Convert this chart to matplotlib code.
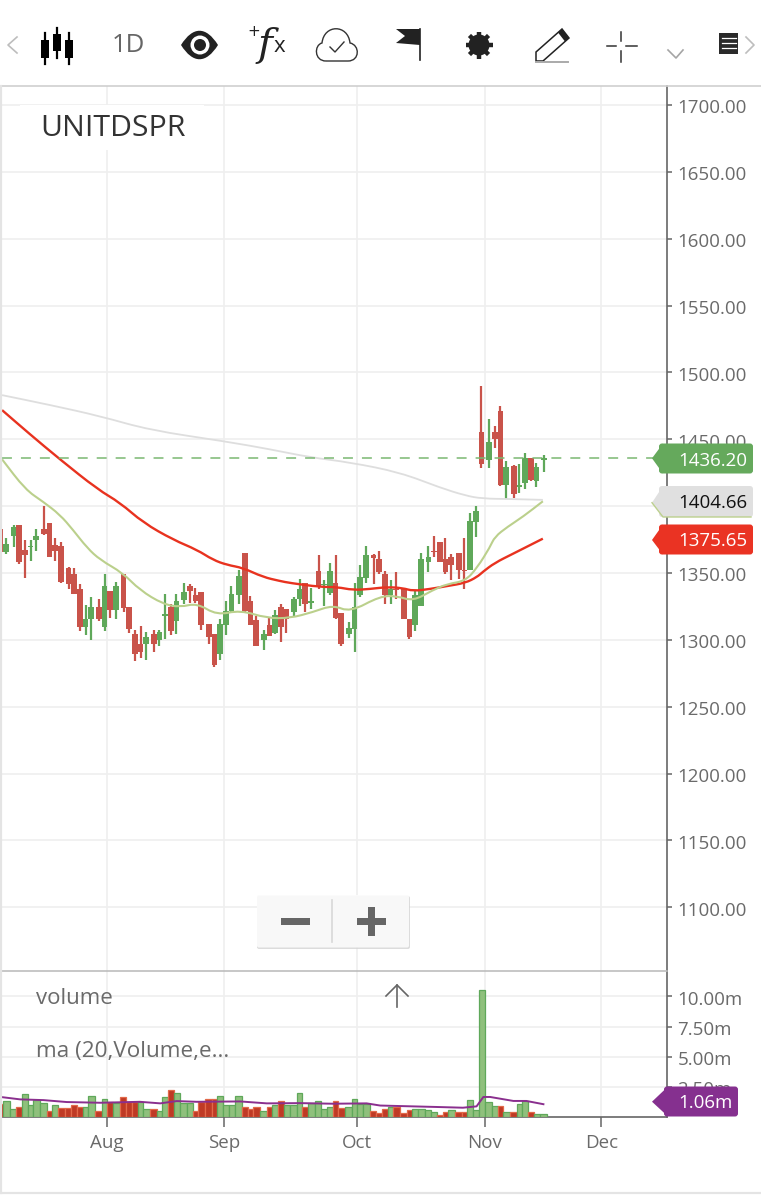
import numpy as np
import matplotlib
matplotlib.use("Agg")
import matplotlib.pyplot as plt
from matplotlib.patches import Polygon, FancyBboxPatch, Rectangle, Circle, PathPatch
from matplotlib.path import Path
from matplotlib.transforms import ScaledTranslation

plt.rcParams["font.family"] = ["Open Sans", "DejaVu Sans"]

# Candles (price)
opens = [1382.9,1365.4,1377.9,1385.9,1367.4,1369.4,1374.9,1382.9,1387.4,1370.9,
         1370.4,1353.4,1349.1,1337.8,1309.5,1315.8,1324.8,1309.5,1336.6,1322.3,
         1349.1,1324.8,1304.7,1297.2,1297.0,1304.7,1299.7,1317.8,1324.8,1314.0,
         1329.5,1340.3,1333.3,1336.0,1312.0,1304.5,1289.5,1311.0,1321.5,1333.6,
         1364.6,1329.0,1314.8,1299.7,1310.8,1305.2,1324.8,1323.3,1320.8,1330.8,
         1342.8,1327.8,1351.6,1341.0,1334.8,1342.8,1320.3,1304.0,1308.2,1333.6,
         1346.6,1363.6,1360.4,1349.1,1333.3,1338.3,1338.3,1315.8,1310.8,1325.3,
         1357.9,1366.1,1373.4,1360.4,1361.6,1364.6,1352.1,1352.1,1388.0,1455.1,
         1434.3,1455.1,1470.9,1415.5,1430.0,1414.5,1417.5,1435.8,1418.8,1434.6]
closes = [1365.4,1371.7,1384.7,1357.9,1363.4,1370.4,1377.4,1379.2,1362.1,1366.6,
          1343.3,1342.1,1334.6,1309.5,1315.8,1324.8,1315.3,1340.3,1322.3,1340.3,
          1324.0,1308.2,1289.7,1291.0,1302.0,1297.0,1306.0,1319.0,1306.5,1328.8,
          1336.0,1336.6,1329.0,1311.0,1302.2,1281.0,1312.0,1321.5,1334.6,1347.8,
          1321.5,1311.0,1295.2,1304.7,1302.7,1318.3,1309.8,1315.8,1330.3,1337.8,
          1326.5,1328.8,1339.6,1342.0,1351.6,1316.5,1296.5,1309.0,1324.8,1347.3,
          1363.4,1360.9,1350.9,1333.3,1337.8,1337.3,1315.3,1302.0,1333.3,1360.4,
          1361.6,1365.4,1358.4,1350.4,1356.1,1352.1,1351.1,1388.7,1396.0,1431.3,
          1448.1,1450.1,1415.5,1429.5,1408.7,1415.5,1436.3,1419.3,1429.5,1436.2]
highs = [1383.4,1375.9,1385.9,1385.9,1374.9,1374.7,1382.9,1400.0,1387.4,1375.9,
         1373.4,1354.1,1353.4,1341.6,1326.0,1332.1,1330.3,1349.1,1336.6,1343.3,
         1349.1,1324.8,1307.2,1310.3,1305.7,1307.2,1307.7,1334.6,1326.5,1334.6,
         1342.8,1342.0,1338.6,1336.0,1312.0,1304.5,1315.3,1329.0,1340.3,1352.1,
         1364.6,1332.8,1317.8,1307.7,1317.3,1322.0,1326.5,1323.3,1332.0,1345.8,
         1342.8,1339.0,1363.4,1344.8,1357.4,1363.4,1320.3,1313.3,1342.8,1355.9,
         1370.4,1364.1,1366.1,1351.6,1344.8,1350.4,1339.0,1315.8,1336.6,1364.6,
         1370.4,1377.4,1373.4,1375.9,1364.1,1364.6,1375.9,1395.0,1400.0,1489.7,
         1465.1,1460.1,1475.2,1433.8,1430.5,1431.3,1439.6,1436.3,1432.0,1438.0]
lows = [1364.9,1364.1,1369.1,1356.6,1346.6,1359.1,1366.6,1378.4,1361.6,1359.1,
        1342.3,1338.3,1334.1,1306.5,1303.5,1299.7,1314.0,1306.5,1316.5,1315.3,
        1320.8,1305.2,1284.0,1286.4,1285.2,1291.0,1295.2,1300.7,1303.5,1304.0,
        1326.5,1327.8,1327.3,1307.0,1296.5,1279.7,1285.2,1303.5,1320.8,1326.5,
        1319.8,1311.0,1295.2,1292.2,1302.7,1304.5,1298.2,1305.2,1317.3,1325.3,
        1320.8,1322.8,1337.8,1325.3,1333.3,1315.8,1295.2,1301.5,1291.0,1332.3,
        1342.3,1342.0,1349.1,1326.5,1326.5,1330.8,1315.3,1300.7,1306.5,1325.3,
        1350.4,1361.6,1357.9,1349.1,1344.8,1345.3,1337.8,1352.1,1376.7,1428.8,
        1428.8,1443.8,1415.0,1405.0,1406.2,1410.0,1413.0,1418.8,1414.3,1425.5]

# sessions per week, the chart leaves a small gap at each weekend
week_sessions = [2,5,4,5,4,5,5,4,5,4,5,4,5,4,5,4,5,5,4,5,1]
weekend_gap = 0.345

# Volume in millions
volumes = [1.04,1.32,0.63,0.85,1.92,0.99,1.40,1.18,0.52,0.99,
           0.77,0.77,0.99,0.82,0.82,1.73,0.52,1.46,1.26,1.18,
           1.62,1.26,1.26,1.26,0.63,0.69,0.52,1.62,2.25,1.95,
           1.18,1.18,0.52,1.26,1.46,1.46,1.76,0.99,0.99,1.76,
           0.85,0.69,0.85,0.52,0.85,0.99,1.32,0.99,0.99,1.95,
           0.85,1.18,1.32,0.63,0.85,1.32,0.77,0.85,1.46,1.04,
           1.04,0.52,0.36,0.69,0.83,0.83,0.33,0.55,0.69,0.69,
           0.55,0.41,0.14,0.41,0.61,0.41,0.41,1.38,0.61,10.5,
           1.24,0.88,0.88,0.41,0.41,1.05,1.33,0.44,0.28,0.28]
volume_sides = "RGGRGGGGRGRRRRGGRGRGRRRGGRGGRGGGRRRRGGGGRRRGRGRGGGRGGGGRRGGGGRRRGRRRGGGGRRGRRGGGGGRGRGGRGG"

# Moving averages, read at the bends of each line
ma_red_x = [0.3,5.2,10.5,17.2,21.1,25.2,30.5,34.7,37.5,40,42.8,46.3,49.3,51.1,56.4,59.4,62.2,65.2,68.2,71,72.8,75.8,78.8,82,84.1,85.1,87.2,90.4,95.7]
ma_red = [1471.8,1453.8,1435,1412.4,1402.6,1387.6,1374.8,1367.3,1359.8,1356,1353.8,1347,1344,1342.5,1339.5,1339.5,1337.2,1338,1339.5,1338.7,1336.5,1338,1340.2,1342.5,1347,1350.8,1357.5,1364.3,1375.65]
ma_green_x = [0.3,4.4,7.5,10.5,12.8,15.3,17.6,21.6,24.6,28.7,31.7,34.7,38.2,42.3,47,51.1,55.1,58.7,61.7,67,70,72.8,76.3,78.8,82,84.1,86.4,87.2,89.5,92.2,95.7]
ma_green = [1435,1412.4,1403.4,1393.6,1382.3,1368.8,1359.8,1350,1337.2,1326.7,1324.4,1327.4,1318.4,1322.2,1316.2,1316.2,1320.7,1326,1320.7,1332.7,1332.7,1329,1337.2,1341.7,1344,1353.8,1369.5,1377,1384.6,1392.1,1403.6]
ma_grey_x = [0.3,8.8,17.6,26.4,39.5,47.6,54.6,61.7,70.5,77.5,82,85,90,95.7]
ma_grey = [1483,1475.6,1467.3,1456.8,1448.5,1442.5,1436.5,1432.7,1425.2,1413.9,1407.9,1405.6,1405.3,1404.66]
ma_vol_x = [0.2,3.5,7.6,11.7,17.6,24.6,28.2,31.1,34.6,42.3,47,52.9,58.7,64.6,67,72.8,77,81.6,84,85.2,86.4,90.5,92.8,95.8]
ma_vol = [1.65,1.46,1.40,1.24,1.18,1.26,1.13,1.32,1.26,1.29,1.13,1.15,1.10,1.13,0.95,0.88,0.83,0.77,0.88,1.66,1.66,1.33,1.33,1.06]

price_ticks = [1100,1150,1200,1250,1300,1350,1400,1450,1500,1550,1600,1650,1700]
volume_ticks = [2.5,5,7.5,10]
volume_tick_labels = ["2.50m","5.00m","7.50m","10.00m"]
month_ticks = [18.81,39.45,62.9,85.5,106.0]
month_labels = ["Aug","Sep","Oct","Nov","Dec"]
last_price = 1436.2

GRID = "#efefef"
AXIS = "#666666"
TXT = "#6a6a6a"
UP = "#5fa85a"
DOWN = "#c9534a"
LABEL_SIZE = 13.5

W, H = 761, 1200
fig = plt.figure(figsize=(W/100, H/100), dpi=100)
left, right = 2/W, 667/W
ax = fig.add_axes([left, 1-971/H, right-left, (971-86)/H])
vax = fig.add_axes([left, 1-1117/H, right-left, (1117-971)/H])


def smooth_line(a, x, y, **kw):
    # quadratic curve through the midpoints of the read points, the chart's lines have no corners
    pts = np.column_stack([x, y])
    mids = (pts[:-1] + pts[1:]) / 2
    verts = [pts[0], mids[0]]
    codes = [Path.MOVETO, Path.LINETO]
    for i in range(1, len(pts)-1):
        verts += [pts[i], mids[i]]
        codes += [Path.CURVE3, Path.CURVE3]
    verts.append(pts[-1])
    codes.append(Path.LINETO)
    a.add_patch(PathPatch(Path(verts, codes), fc="none", **kw))


# session positions
xs = []
pos = 0.0
for n in week_sessions:
    for i in range(n):
        xs.append(pos)
        pos += 1
    pos += weekend_gap
xs = np.array(xs)
opens, closes, highs, lows = map(np.array, (opens, closes, highs, lows))

colors = [UP if c >= o else DOWN for o, c in zip(opens, closes)]
ax.vlines(xs, lows, highs, colors=colors, lw=1.6, zorder=3)
ax.bar(xs, np.maximum(np.abs(closes-opens), 1.0), bottom=np.minimum(opens, closes), width=1.0, color=colors, zorder=3)

smooth_line(ax, ma_grey_x, ma_grey, ec="#dedede", lw=1.3, zorder=4)
smooth_line(ax, ma_red_x, ma_red, ec="#e8321f", lw=1.7, zorder=4)
smooth_line(ax, ma_green_x, ma_green, ec="#bbd08c", lw=1.5, zorder=5)
ax.axhline(last_price, color="#7ab872", lw=1.1, dashes=(6.5, 5.9), zorder=5)

ax.set_xlim(0.29, 117.6)
ax.set_ylim(1052.3, 1714.2)
ax.set_yticks(price_ticks)
ax.set_yticklabels(["%.2f" % p for p in price_ticks])
ax.set_xticks(month_ticks)
ax.set_xticklabels([])
ax.tick_params(axis="x", length=0)

# volume panel, bars fill the slot of their session
edges = np.concatenate([[xs[0]-0.5], (xs[:-1]+xs[1:])/2, [xs[-1]+0.5]])
bar_face = ["#8fc07c" if s == "G" else "#bf3a25" for s in volume_sides]
bar_edge = ["#5fa85a" if s == "G" else "#e2694a" for s in volume_sides]
vax.bar(edges[:-1], volumes, width=np.diff(edges), align="edge", color=bar_face, edgecolor=bar_edge, lw=0.9, zorder=3)
vax.plot(ma_vol_x, ma_vol, color="#8a2f8e", lw=1.4, zorder=4)
vax.set_xlim(0.29, 117.6)
vax.set_ylim(0, 12.1)
vax.set_yticks(volume_ticks)
vax.set_yticklabels(volume_tick_labels)
vax.set_xticks(month_ticks)
vax.set_xticklabels(month_labels)

label_shift = ScaledTranslation(0, -0.015, fig.dpi_scale_trans)
for a in (ax, vax):
    a.grid(True, color=GRID, lw=1.2, zorder=0)
    a.set_axisbelow(True)
    a.yaxis.tick_right()
    for s in ("left", "top", "bottom"):
        a.spines[s].set_visible(False)
    a.spines["right"].set_color(AXIS)
    a.spines["right"].set_linewidth(1.2)
    a.tick_params(axis="y", length=3.6, width=1.1, color=AXIS, labelcolor=TXT, labelsize=LABEL_SIZE, pad=4)
    for lab in a.get_yticklabels():
        lab.set_transform(lab.get_transform() + label_shift)
vax.spines["bottom"].set_visible(True)
vax.spines["bottom"].set_color(AXIS)
vax.spines["bottom"].set_linewidth(1.2)
vax.tick_params(axis="x", length=7.5, width=1.1, color=AXIS, labelcolor=TXT, labelsize=LABEL_SIZE, pad=5)

# Screen furniture, drawn in pixel coordinates on top of the chart
ui = fig.add_axes([0, 0, 1, 1], zorder=10)
ui.set_xlim(0, W)
ui.set_ylim(H, 0)
ui.axis("off")
ui.patch.set_alpha(0)

ui.plot([0, W], [86, 86], color="#cfcfcf", lw=1.2)
ui.plot([0, 667], [971, 971], color="#bdbdbd", lw=1.2)
ui.plot([1, 1], [86, 1193], color="#e4e4e4", lw=1.6)
ui.plot([0, W], [1193, 1193], color="#e4e4e4", lw=1.6)

# symbol name and panel captions
ui.add_patch(Rectangle((20, 105), 184, 45, fc="white", ec="none"))
ui.text(40, 128.5, "UNITDSPR", fontsize=21.8, color="#333333", va="center", ha="left")
ui.text(36, 999, "volume", fontsize=16, color=TXT, va="center")
ui.text(36, 1052, "ma (20,Volume,e...", fontsize=16.2, color=TXT, va="center")
ui.plot([386, 397, 408], [996, 985, 996], color=AXIS, lw=1.2)
ui.plot([397, 397], [985, 1007], color=AXIS, lw=1.2)


def callout(top, bottom, tip_y, x_body, x_right, color, text, txt_color, edge=None):
    ui.add_patch(FancyBboxPatch((x_body, top+3), x_right-x_body-3, bottom-top-6, boxstyle="round,pad=3",
                                fc=color, ec="none", zorder=20))
    ui.add_patch(Polygon([(652, tip_y), (x_body+1, top), (x_body+1, bottom)], fc=color, ec="none", zorder=20))
    if edge:
        ui.plot([652, x_body+1, x_right-2], [tip_y, bottom, bottom], color=edge, lw=1.0, zorder=21)
    ui.text(x_right-5.5, (top+bottom)/2+2, text, color=txt_color, fontsize=LABEL_SIZE, ha="right", va="center", zorder=22)


callout(443.5, 473.5, 458.3, 662, 753, "#65a95c", "1436.20", "white")
callout(486, 517, 502.7, 662, 753, "#e0e0e0", "1404.66", "#111111", edge="#bcd08e")
callout(524.5, 554.5, 540, 662, 753, "#ea3323", "1375.65", "white")
callout(1086.5, 1116.5, 1101.7, 667, 738, "#85308f", "1.06m", "white")

# zoom buttons
ui.add_patch(FancyBboxPatch((259, 898), 149, 49, boxstyle="round,pad=2", fc="#d4d4d4", ec="none", alpha=0.8))
ui.add_patch(FancyBboxPatch((259, 897), 148, 48.5, boxstyle="round,pad=2", fc="#fbfbfb", ec="none", alpha=0.93))
ui.plot([332, 332], [900, 942], color="#d8d8d8", lw=1.2)
ui.add_patch(Rectangle((281, 918), 29, 7, fc="#666666", ec="none"))
ui.add_patch(Rectangle((357, 918), 29, 7, fc="#666666", ec="none"))
ui.add_patch(Rectangle((368, 907), 7, 29, fc="#666666", ec="none"))

# toolbar
ui.plot([17, 8, 17], [37, 45, 53], color="#bdbdbd", lw=1.2)
ui.plot([746, 754, 746], [37, 45, 53], color="#bdbdbd", lw=1.2)
for cx, wt, wb, bt, bb in [(45, 33, 64, 40, 58), (57, 28, 58, 34, 51), (69, 33, 64, 40, 58)]:
    ui.plot([cx, cx], [wt, wb], color="black", lw=1.6)
    ui.add_patch(Rectangle((cx-4, bt), 8, bb-bt, fc="black", ec="none"))
ui.text(128, 46, "1D", fontsize=18.5, color="#666666", ha="center", va="center")

# eye
eye = Path([(181, 45), (193, 26), (206, 26), (218, 45), (206, 64), (193, 64), (181, 45)],
           [Path.MOVETO, Path.CURVE4, Path.CURVE4, Path.CURVE4, Path.CURVE4, Path.CURVE4, Path.CURVE4])
ui.add_patch(PathPatch(eye, fc="#222222", ec="none"))
ui.add_patch(Circle((200, 45), 9.5, fc="white", ec="none"))
ui.add_patch(Circle((200, 45), 6, fc="#222222", ec="none"))

# fx
ui.text(254, 31, "+", fontsize=11, color="#222222", ha="center", va="center", family="DejaVu Sans")
ui.text(265, 46, "f", fontsize=29, color="#222222", ha="center", va="center", family="DejaVu Serif", style="italic")
ui.text(279, 46, "x", fontsize=16, color="#222222", ha="center", va="center")

# cloud
cloud = Path([(326, 61), (314, 61), (314, 45), (322, 43), (324, 24), (348, 24), (350, 43),
              (360, 45), (360, 61), (348, 61), (326, 61)],
             [Path.MOVETO, Path.CURVE4, Path.CURVE4, Path.CURVE4, Path.CURVE4, Path.CURVE4, Path.CURVE4,
              Path.CURVE4, Path.CURVE4, Path.CURVE4, Path.LINETO])
ui.add_patch(PathPatch(cloud, fc="white", ec="#333333", lw=1.0))
ui.plot([330, 335, 344], [47, 52, 42], color="#333333", lw=1.0)

# flag
ui.add_patch(Polygon([(396, 29), (420, 29), (420, 45), (396, 43), (405, 36)], fc="#222222", ec="none"))
ui.plot([419.5, 419.5], [29, 60], color="#222222", lw=1.2)

# gear
for ang in np.arange(0, 360, 45):
    r = np.radians(ang)
    ui.plot([479, 479+13.5*np.cos(r)], [45, 45+13.5*np.sin(r)], color="#222222", lw=3.2, solid_capstyle="butt")
ui.add_patch(Circle((479, 45), 10.5, fc="#222222", ec="none"))
ui.add_patch(Circle((479, 45), 4.5, fc="white", ec="none"))

# pencil
ui.add_patch(Polygon([(536, 52), (562, 29), (569, 38), (543, 61), (536, 61)], fc="white", ec="#222222", lw=1.1))
ui.add_patch(Polygon([(558, 32.5), (562, 29), (569, 38), (565, 41.5)], fc="#222222", ec="none"))
ui.plot([536, 568], [61.5, 61.5], color="#aaaaaa", lw=1.4)

# crosshair
for xx, yy in [((607, 616), (46, 46)), ((626, 637), (46, 46)), ((621, 621), (32, 41)), ((621, 621), (51, 62))]:
    ui.plot(xx, yy, color="#333333", lw=1.1)
ui.plot([668, 676, 683], [50, 58, 50], color="#a5a5a5", lw=1.2)

# list icon
ui.add_patch(Rectangle((719, 33), 19, 21, fc="#2a2a2a", ec="none"))
for yy in (38, 43, 48):
    ui.plot([722, 736], [yy, yy], color="white", lw=0.9)

fig.savefig("out.png", dpi=100, facecolor="white")
